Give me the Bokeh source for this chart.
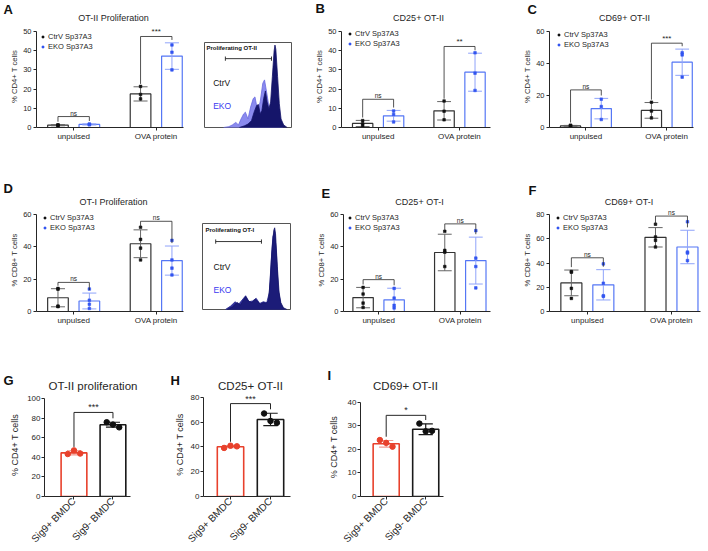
import math
from bokeh.plotting import figure
from bokeh.models import Range1d, FixedTicker, Label, Legend, LegendItem
from bokeh.layouts import row, column
from bokeh.embed import file_html
from bokeh.resources import INLINE
from bokeh.core.properties import value

FONT = "Liberation Sans"
INK = "#262626"
BLUE = "#3355f0"
BLUE_BAR = "#5577f5"
BLUE_ERR = "#8fa3fa"
GRAY_ERR = "#666666"
RED = "#e8412c"
RED_ERR = "#f29a90"
NAVY = "#15156a"
LIGHT = "#8a8aee"
EKO_TXT = "#3a3af0"

# ---------------- data ----------------
GROUPS = ["unpulsed", "OVA protein"]
SERIES = ["CtrV Sp37A3", "EKO Sp37A3"]
BMDC = ["Sig9+ BMDC", "Sig9- BMDC"]

ROW1_LETTERS = ["A", "B", "C"]
ROW1_TITLES = ["OT-II Proliferation", "CD25+ OT-II", "CD69+ OT-II"]
ROW2_LETTERS = ["D", "E", "F"]
ROW2_TITLES = ["OT-I Proliferation", "CD25+ OT-I", "CD69+ OT-I"]
ROW3_LETTERS = ["G", "H", "I"]
ROW3_TITLES = ["OT-II proliferation", "CD25+ OT-II", "CD69+ OT-II"]

# A: OT-II Proliferation (% CD4+ T cells)
A_CTRV_MEAN = [1.2, 17.5]
A_CTRV_SD = [0.3, 3.7]
A_CTRV_PTS = [[1.0, 1.2, 1.4], [21.4, 17.2, 14.9]]
A_EKO_MEAN = [1.6, 37.2]
A_EKO_SD = [0.3, 6.9]
A_EKO_PTS = [[1.4, 1.6, 1.8], [43.0, 39.2, 30.0]]
A_SIG_Y = [5.7, 47.4]
A_SIG = ["ns", "***"]
A_YTICKS = [0, 10, 20, 30, 40, 50]

# B: CD25+ OT-II
B_CTRV_MEAN = [2.1, 8.7]
B_CTRV_SD = [1.6, 4.8]
B_CTRV_PTS = [[3.6, 1.9, 0.9], [13.8, 8.5, 4.0]]
B_EKO_MEAN = [6.1, 28.8]
B_EKO_SD = [2.8, 9.9]
B_EKO_PTS = [[8.6, 6.8, 2.9], [38.9, 28.3, 19.3]]
B_SIG_Y = [14.7, 42.2]
B_SIG = ["ns", "**"]
B_YTICKS = [0, 10, 20, 30, 40, 50]

# C: CD69+ OT-II
C_CTRV_MEAN = [1.0, 10.7]
C_CTRV_SD = [0.3, 4.9]
C_CTRV_PTS = [[1.2, 0.8, 1.4], [15.8, 10.3, 6.0]]
C_EKO_MEAN = [11.8, 40.8]
C_EKO_SD = [6.4, 8.2]
C_EKO_PTS = [[17.7, 13.1, 5.0], [46.7, 45.4, 31.5]]
C_SIG_Y = [23.5, 52.7]
C_SIG = ["ns", "***"]
C_YTICKS = [0, 20, 40, 60]

# D: OT-I Proliferation (% CD8+ T cells)
D_CTRV_MEAN = [8.5, 41.9]
D_CTRV_SD = [5.6, 8.6]
D_CTRV_PTS = [[14.3, 13.8, 3.3, 3.0], [52.1, 44.6, 39.2, 31.9]]
D_EKO_MEAN = [6.5, 31.5]
D_EKO_SD = [4.9, 9.0]
D_EKO_PTS = [[13.9, 7.0, 4.5, 1.9], [44.0, 31.9, 26.8, 22.6]]
D_SIG_Y = [18.0, 55.8]
D_SIG = ["ns", "ns"]
D_YTICKS = [0, 20, 40, 60]

# E: CD25+ OT-I
E_CTRV_MEAN = [8.6, 36.5]
E_CTRV_SD = [6.3, 11.3]
E_CTRV_PTS = [[14.9, 10.8, 5.2, 2.5], [49.6, 37.8, 36.7, 27.8]]
E_EKO_MEAN = [7.2, 31.5]
E_EKO_SD = [7.2, 14.5]
E_EKO_PTS = [[14.3, 8.3, 3.8, 2.2], [50.0, 33.0, 27.8, 14.6]]
E_SIG_Y = [19.7, 54.2]
E_SIG = ["ns", "ns"]
E_YTICKS = [0, 20, 40, 60]

# F: CD69+ OT-I
F_CTRV_MEAN = [23.6, 61.2]
F_CTRV_SD = [10.6, 8.0]
F_CTRV_PTS = [[33.0, 32.4, 19.1, 10.8], [72.0, 61.5, 58.7, 53.2]]
F_EKO_MEAN = [22.0, 53.2]
F_EKO_SD = [12.5, 13.8]
F_EKO_PTS = [[39.3, 23.3, 13.0, 12.5], [74.0, 49.0, 48.2, 42.0]]
F_SIG_Y = [44.3, 78.7]
F_SIG = ["ns", "ns"]
F_YTICKS = [0, 20, 40, 60, 80]

# G: OT-II proliferation (Sig9+ vs Sig9- BMDC)
G_MEAN = [44.5, 73.2]
G_SD = [2.0, 2.5]
G_PTS = [[43.3, 47.0, 43.8], [75.7, 73.3, 70.5]]
G_SIG_Y = 85.7
G_SIG = "***"
G_YTICKS = [0, 20, 40, 60, 80, 100]

# H: CD25+ OT-II
H_MEAN = [40.2, 62.2]
H_SD = [0.8, 5.0]
H_PTS = [[39.2, 41.0, 40.5], [67.0, 61.0, 59.5]]
H_SIG_Y = 75.0
H_SIG = "***"
H_YTICKS = [0, 20, 40, 60, 80]

# I: CD69+ OT-II
I_MEAN = [22.4, 28.6]
I_SD = [1.4, 2.3]
I_PTS = [[24.0, 22.8, 21.2], [31.0, 27.7, 27.9]]
I_SIG_Y = 34.5
I_SIG = "*"
I_YTICKS = [0, 10, 20, 30, 40]

# Histogram insets (fluorescence channel 0-100, % of max 0-100)
OT2_EKO_X = [22, 28, 32, 36, 39, 42, 45, 47, 50, 53, 56, 58, 61, 64, 67, 69, 72, 75, 79, 84, 90]
OT2_EKO_Y = [0, 1, 3, 6, 3, 10, 16, 18, 10, 24, 34, 36, 20, 30, 52, 56, 38, 18, 8, 2, 0]
OT2_CTRV_X = [40, 46, 50, 54, 57, 60, 62, 64, 66, 68, 70, 72, 74, 76, 78, 80, 81, 82, 84, 86, 88, 91, 95]
OT2_CTRV_Y = [0, 2, 4, 8, 18, 26, 27, 16, 20, 34, 43, 30, 22, 30, 60, 90, 97, 92, 60, 28, 10, 3, 0]
OT1_EKO_X = [26, 32, 37, 41, 45, 49, 53, 57, 61, 65, 69, 73, 76, 78, 80, 82, 84, 86, 89, 93]
OT1_EKO_Y = [0, 4, 9, 6, 11, 16, 9, 10, 13, 7, 9, 8, 20, 55, 85, 90, 65, 25, 5, 0]
OT1_CTRV_X = [28, 34, 38, 40, 43, 46, 49, 52, 56, 60, 63, 66, 69, 72, 75, 77, 79, 81, 82, 83, 85, 87, 89, 92, 96]
OT1_CTRV_Y = [0, 3, 7, 8, 5, 10, 15, 10, 8, 12, 9, 6, 8, 7, 10, 35, 70, 92, 95, 88, 50, 20, 8, 2, 0]

# ---------------- helpers ----------------
OFF = 0.19
BW = 0.25
CAP = 0.085
JIT = [-0.16, 0.0, 0.16]
PAGE_W = 708


def new_fig(geom, xr, yr, axes=True):
    w, h, bl, br, bt, bb = geom
    kw = {}
    if not axes:
        kw = dict(x_axis_location=None, y_axis_location=None)
    p = figure(width=w, height=h, x_range=Range1d(*xr), y_range=Range1d(*yr),
               output_backend="svg", toolbar_location=None, title=None,
               min_border_left=bl, min_border_right=br, min_border_top=bt,
               min_border_bottom=bb, **kw)
    p.frame_align = False
    p.grid.visible = False
    p.outline_line_color = None
    return p


def header(h, letters, lpos, titles, tpos, tsize):
    p = new_fig((PAGE_W, h, 0, 0, 0, 0), (0, PAGE_W), (h, 0), axes=False)
    p.text(x=[q[0] for q in lpos], y=[q[1] for q in lpos], text=letters,
           text_font=value(FONT), text_font_style="bold", text_font_size="13px",
           text_color="#111111", text_align="left", text_baseline="top")
    p.text(x=[q[0] for q in tpos], y=[q[1] for q in tpos], text=titles,
           text_font=value(FONT), text_font_size=tsize, text_color=INK,
           text_align="center", text_baseline="middle")
    return p


def axis_style(p, tick_fs, lab_fs, xlab_fs, lab_standoff, ymax):
    for ax in (p.xaxis[0], p.yaxis[0]):
        ax.axis_line_color = INK
        ax.axis_line_width = 1
        ax.major_tick_line_color = INK
        ax.minor_tick_line_color = None
        ax.major_tick_in = 0
        ax.major_tick_out = 3
        ax.major_label_text_font = FONT
        ax.major_label_text_color = INK
        ax.axis_label_text_font = FONT
        ax.axis_label_text_font_style = "normal"
        ax.axis_label_text_color = INK
    p.yaxis.bounds = (0, ymax)
    p.yaxis.major_label_text_font_size = tick_fs
    p.yaxis.axis_label_text_font_size = lab_fs
    p.yaxis.axis_label_standoff = lab_standoff
    p.yaxis.major_label_standoff = 2
    p.xaxis.major_label_text_font_size = xlab_fs
    p.xaxis.major_label_standoff = 1


def group_panel(ylabel, yticks, cm, cs, cp, em, es, ep, sig_y, sig, geom, xr, ext, legpos):
    p = new_fig(geom, xr, (0, yticks[-1] * ext))
    axis_style(p, "7.5px", "7.7px", "8px", 1, yticks[-1])
    p.yaxis.ticker = FixedTicker(ticks=yticks)
    p.yaxis.axis_label = ylabel
    p.xaxis.ticker = FixedTicker(ticks=list(range(len(GROUPS))))
    p.xaxis.major_label_overrides = {i: g for i, g in enumerate(GROUPS)}
    n = len(GROUPS)
    rends = []
    for sgn, mean, sd, pts, bar_c, err_c, pt_c in (
            (-1, cm, cs, cp, "#333333", GRAY_ERR, "#111111"),
            (1, em, es, ep, BLUE_BAR, BLUE_ERR, BLUE)):
        xs = [i + sgn * OFF for i in range(n)]
        p.vbar(x=xs, top=mean, bottom=0, width=BW, fill_color="white",
               line_color=bar_c, line_width=1.2)
        hi = [m + s for m, s in zip(mean, sd)]
        lo = [m - s for m, s in zip(mean, sd)]
        p.segment(x0=xs, y0=lo, x1=xs, y1=hi, line_color=err_c, line_width=1)
        p.segment(x0=[x - CAP for x in xs], y0=hi, x1=[x + CAP for x in xs], y1=hi,
                  line_color=err_c, line_width=1)
        p.segment(x0=[x - CAP for x in xs], y0=lo, x1=[x + CAP for x in xs], y1=lo,
                  line_color=err_c, line_width=1)
        px, py = [], []
        for x, vals in zip(xs, pts):
            px += [x] * len(vals)
            py += vals
        r = p.scatter(px, py, marker="square", size=2.6, fill_color=pt_c, line_color=pt_c,
                      line_width=0.6)
        rends.append(r)
    gap = 0.03 * yticks[-1]
    bx, by = [], []
    for i in range(n):
        bx.append([i - OFF, i - OFF, i + OFF, i + OFF])
        by.append([cm[i] + cs[i] + gap, sig_y[i], sig_y[i], em[i] + es[i] + gap])
        p.add_layout(Label(x=i, y=sig_y[i], text=sig[i], text_font=FONT,
                           text_font_size="6.5px" if sig[i] == "ns" else "8px",
                           text_color=INK, text_align="center", text_baseline="bottom"))
    p.multi_line(bx, by, line_color=INK, line_width=0.8)
    leg = Legend(items=[LegendItem(label=SERIES[0], renderers=[rends[0]]),
                        LegendItem(label=SERIES[1], renderers=[rends[1]])],
                 location=legpos, orientation="vertical", padding=0, margin=0, spacing=0,
                 glyph_width=5, glyph_height=5, label_height=10, label_standoff=3,
                 label_text_font=FONT, label_text_font_size="7.5px", label_text_color=INK,
                 border_line_color=None, background_fill_alpha=0)
    p.add_layout(leg)
    return p


def bmdc_panel(yticks, means, sds, pts, sig_y, sig, geom, xr, ext, lab_standoff):
    p = new_fig(geom, xr, (0, yticks[-1] * ext))
    axis_style(p, "8px", "9px", "10px", lab_standoff, yticks[-1])
    p.yaxis.major_label_standoff = 1
    p.yaxis.ticker = FixedTicker(ticks=yticks)
    p.yaxis.axis_label = "% CD4+ T cells"
    p.xaxis.ticker = FixedTicker(ticks=list(range(len(BMDC))))
    p.xaxis.major_label_overrides = {i: c for i, c in enumerate(BMDC)}
    p.xaxis.major_label_orientation = math.pi / 4
    p.xaxis.major_label_standoff = 0
    xs = list(range(len(BMDC)))
    bar_cols = [RED, "#1a1a1a"]
    err_cols = [RED_ERR, "#1a1a1a"]
    pt_cols = [RED, "#111111"]
    p.vbar(x=xs, top=means, bottom=0, width=0.66, fill_color="white",
           line_color=bar_cols, line_width=1.6)
    hi = [m + s for m, s in zip(means, sds)]
    lo = [m - s for m, s in zip(means, sds)]
    p.segment(x0=xs, y0=lo, x1=xs, y1=hi, line_color=err_cols, line_width=1.2)
    p.segment(x0=[x - 0.18 for x in xs], y0=hi, x1=[x + 0.18 for x in xs], y1=hi,
              line_color=err_cols, line_width=1.2)
    p.segment(x0=[x - 0.18 for x in xs], y0=lo, x1=[x + 0.18 for x in xs], y1=lo,
              line_color=err_cols, line_width=1.2)
    for x, vals, c in zip(xs, pts, pt_cols):
        p.scatter([x + JIT[j] for j in range(len(vals))], vals, marker="circle",
                  size=5.5, fill_color=c, line_color=c)
    gap = 0.04 * yticks[-1]
    p.line([0, 0, 1, 1], [hi[0] + gap, sig_y, sig_y, hi[1] + gap], line_color=INK,
           line_width=1)
    p.add_layout(Label(x=0.5, y=sig_y, text=sig, text_font=FONT, text_font_size="9px",
                       text_color=INK, text_align="center", text_baseline="bottom"))
    return p


def hist_panel(title, cx, cy, ex, ey, geom, eko_col, eko_line, ctrv_col,
               title_pos, brk, ctrv_pos, eko_pos):
    p = new_fig(geom, (0, 100), (0, 100), axes=False)
    p.outline_line_color = "#555555"
    p.outline_line_width = 1
    p.patch(ex, ey, fill_color=eko_col, line_color=eko_line, line_width=0.8)
    p.patch(cx, cy, fill_color=ctrv_col, line_color=NAVY, line_width=0.8)
    p.add_layout(Label(x=title_pos[0], y=title_pos[1], text=title, text_font=FONT,
                       text_font_style="bold", text_font_size="6px", text_color="#111",
                       text_baseline="middle"))
    x0, x1, yb = brk
    p.segment(x0=[x0], y0=[yb], x1=[x1], y1=[yb], line_color="#222", line_width=0.9)
    p.segment(x0=[x0, x1], y0=[yb - 2.5, yb - 2.5], x1=[x0, x1], y1=[yb + 2.5, yb + 2.5],
              line_color="#222", line_width=0.9)
    p.add_layout(Label(x=ctrv_pos[0], y=ctrv_pos[1], text="CtrV", text_font=FONT,
                       text_font_size="8.5px", text_color="#111", text_baseline="middle"))
    p.add_layout(Label(x=eko_pos[0], y=eko_pos[1], text="EKO", text_font=FONT,
                       text_font_size="8.5px", text_color=EKO_TXT, text_baseline="middle"))
    return p


# ---------------- geometry (width, height, left, right, top, bottom) ----------------
GEO_A = (200, 123, 36, 17, 1, 20)
GEO_HA = (100, 123, 4, 9, 18, 20)
GEO_B = (220, 123, 41, 30, 1, 20)
GEO_C = (188, 123, 25, 15, 1, 20)
GEO_D = (200, 128, 36, 17, 1, 24)
GEO_HD = (100, 128, 2, 10, 16, 26)
GEO_E = (220, 128, 43, 30, 1, 24)
GEO_F = (188, 128, 27, 8, 1, 24)
GEO_G = (160, 159, 44, 30, 1, 53)
GEO_H = (160, 159, 43, 30, 0, 53)
GEO_I = (150, 159, 40, 27, 5, 53)

hdr1 = header(24, ROW1_LETTERS, [(3, 1), (315, 0), (527, 1)],
              ROW1_TITLES, [(113, 17), (418, 17), (624, 17)], "9px")
pA = group_panel("% CD4+ T cells", A_YTICKS, A_CTRV_MEAN, A_CTRV_SD, A_CTRV_PTS,
                 A_EKO_MEAN, A_EKO_SD, A_EKO_PTS, A_SIG_Y, A_SIG, GEO_A,
                 (-0.45, 1.33), 102 / 96, (4, 76))
pHA = hist_panel("Proliferating OT-II", OT2_CTRV_X, OT2_CTRV_Y, OT2_EKO_X, OT2_EKO_Y,
                 GEO_HA, LIGHT, "#6a6ae0", NAVY, (2.3, 94), (24, 77, 81), (10, 52), (10, 25))
pB = group_panel("% CD4+ T cells", B_YTICKS, B_CTRV_MEAN, B_CTRV_SD, B_CTRV_PTS,
                 B_EKO_MEAN, B_EKO_SD, B_EKO_PTS, B_SIG_Y, B_SIG, GEO_B,
                 (-0.45, 1.38), 102 / 96, (6, 79))
pC = group_panel("% CD4+ T cells", C_YTICKS, C_CTRV_MEAN, C_CTRV_SD, C_CTRV_PTS,
                 C_EKO_MEAN, C_EKO_SD, C_EKO_PTS, C_SIG_Y, C_SIG, GEO_C,
                 (-0.45, 1.33), 102 / 96, (7, 78))

hdr2 = header(60, ROW2_LETTERS, [(3, 33.5), (321, 38.5), (528, 35.5)],
              ROW2_TITLES, [(113, 54), (419, 54), (628.5, 54)], "9px")
pD = group_panel("% CD8+ T cells", D_YTICKS, D_CTRV_MEAN, D_CTRV_SD, D_CTRV_PTS,
                 D_EKO_MEAN, D_EKO_SD, D_EKO_PTS, D_SIG_Y, D_SIG, GEO_D,
                 (-0.45, 1.33), 103 / 97, (6, 79))
pHD = hist_panel("Proliferating OT-I", OT1_CTRV_X, OT1_CTRV_Y, OT1_EKO_X, OT1_EKO_Y,
                 GEO_HD, "#34349e", "#22228a", "#1c1c78", (3.4, 92), (15, 67, 79),
                 (12.5, 49), (12.5, 23))
pE = group_panel("% CD8+ T cells", E_YTICKS, E_CTRV_MEAN, E_CTRV_SD, E_CTRV_PTS,
                 E_EKO_MEAN, E_EKO_SD, E_EKO_PTS, E_SIG_Y, E_SIG, GEO_E,
                 (-0.43, 1.37), 103 / 97, (4, 79))
pF = group_panel("% CD8+ T cells", F_YTICKS, F_CTRV_MEAN, F_CTRV_SD, F_CTRV_PTS,
                 F_EKO_MEAN, F_EKO_SD, F_EKO_PTS, F_SIG_Y, F_SIG, GEO_F,
                 (-0.45, 1.345), 103 / 97, (6, 79))

hdr3 = header(57, ROW3_LETTERS, [(3, 37.5), (170, 37.5), (327, 32.5)],
              ROW3_TITLES, [(92.5, 50), (250, 50), (405, 50)], "11.5px")
pG = bmdc_panel(G_YTICKS, G_MEAN, G_SD, G_PTS, G_SIG_Y, G_SIG, GEO_G,
                (-0.756, 1.45), 105 / 100, 4)
pH = bmdc_panel(H_YTICKS, H_MEAN, H_SD, H_PTS, H_SIG_Y, H_SIG, GEO_H,
                (-0.675, 1.5), 106 / 101, 3)
pI = bmdc_panel(I_YTICKS, I_MEAN, I_SD, I_PTS, I_SIG_Y, I_SIG, GEO_I,
                (-0.65, 1.45), 101 / 96, 6)

layout = column(hdr1, row(pA, pHA, pB, pC),
                hdr2, row(pD, pHD, pE, pF),
                hdr3, row(pG, pH, pI))

with open("out.html", "w") as f:
    f.write(file_html(layout, INLINE))
